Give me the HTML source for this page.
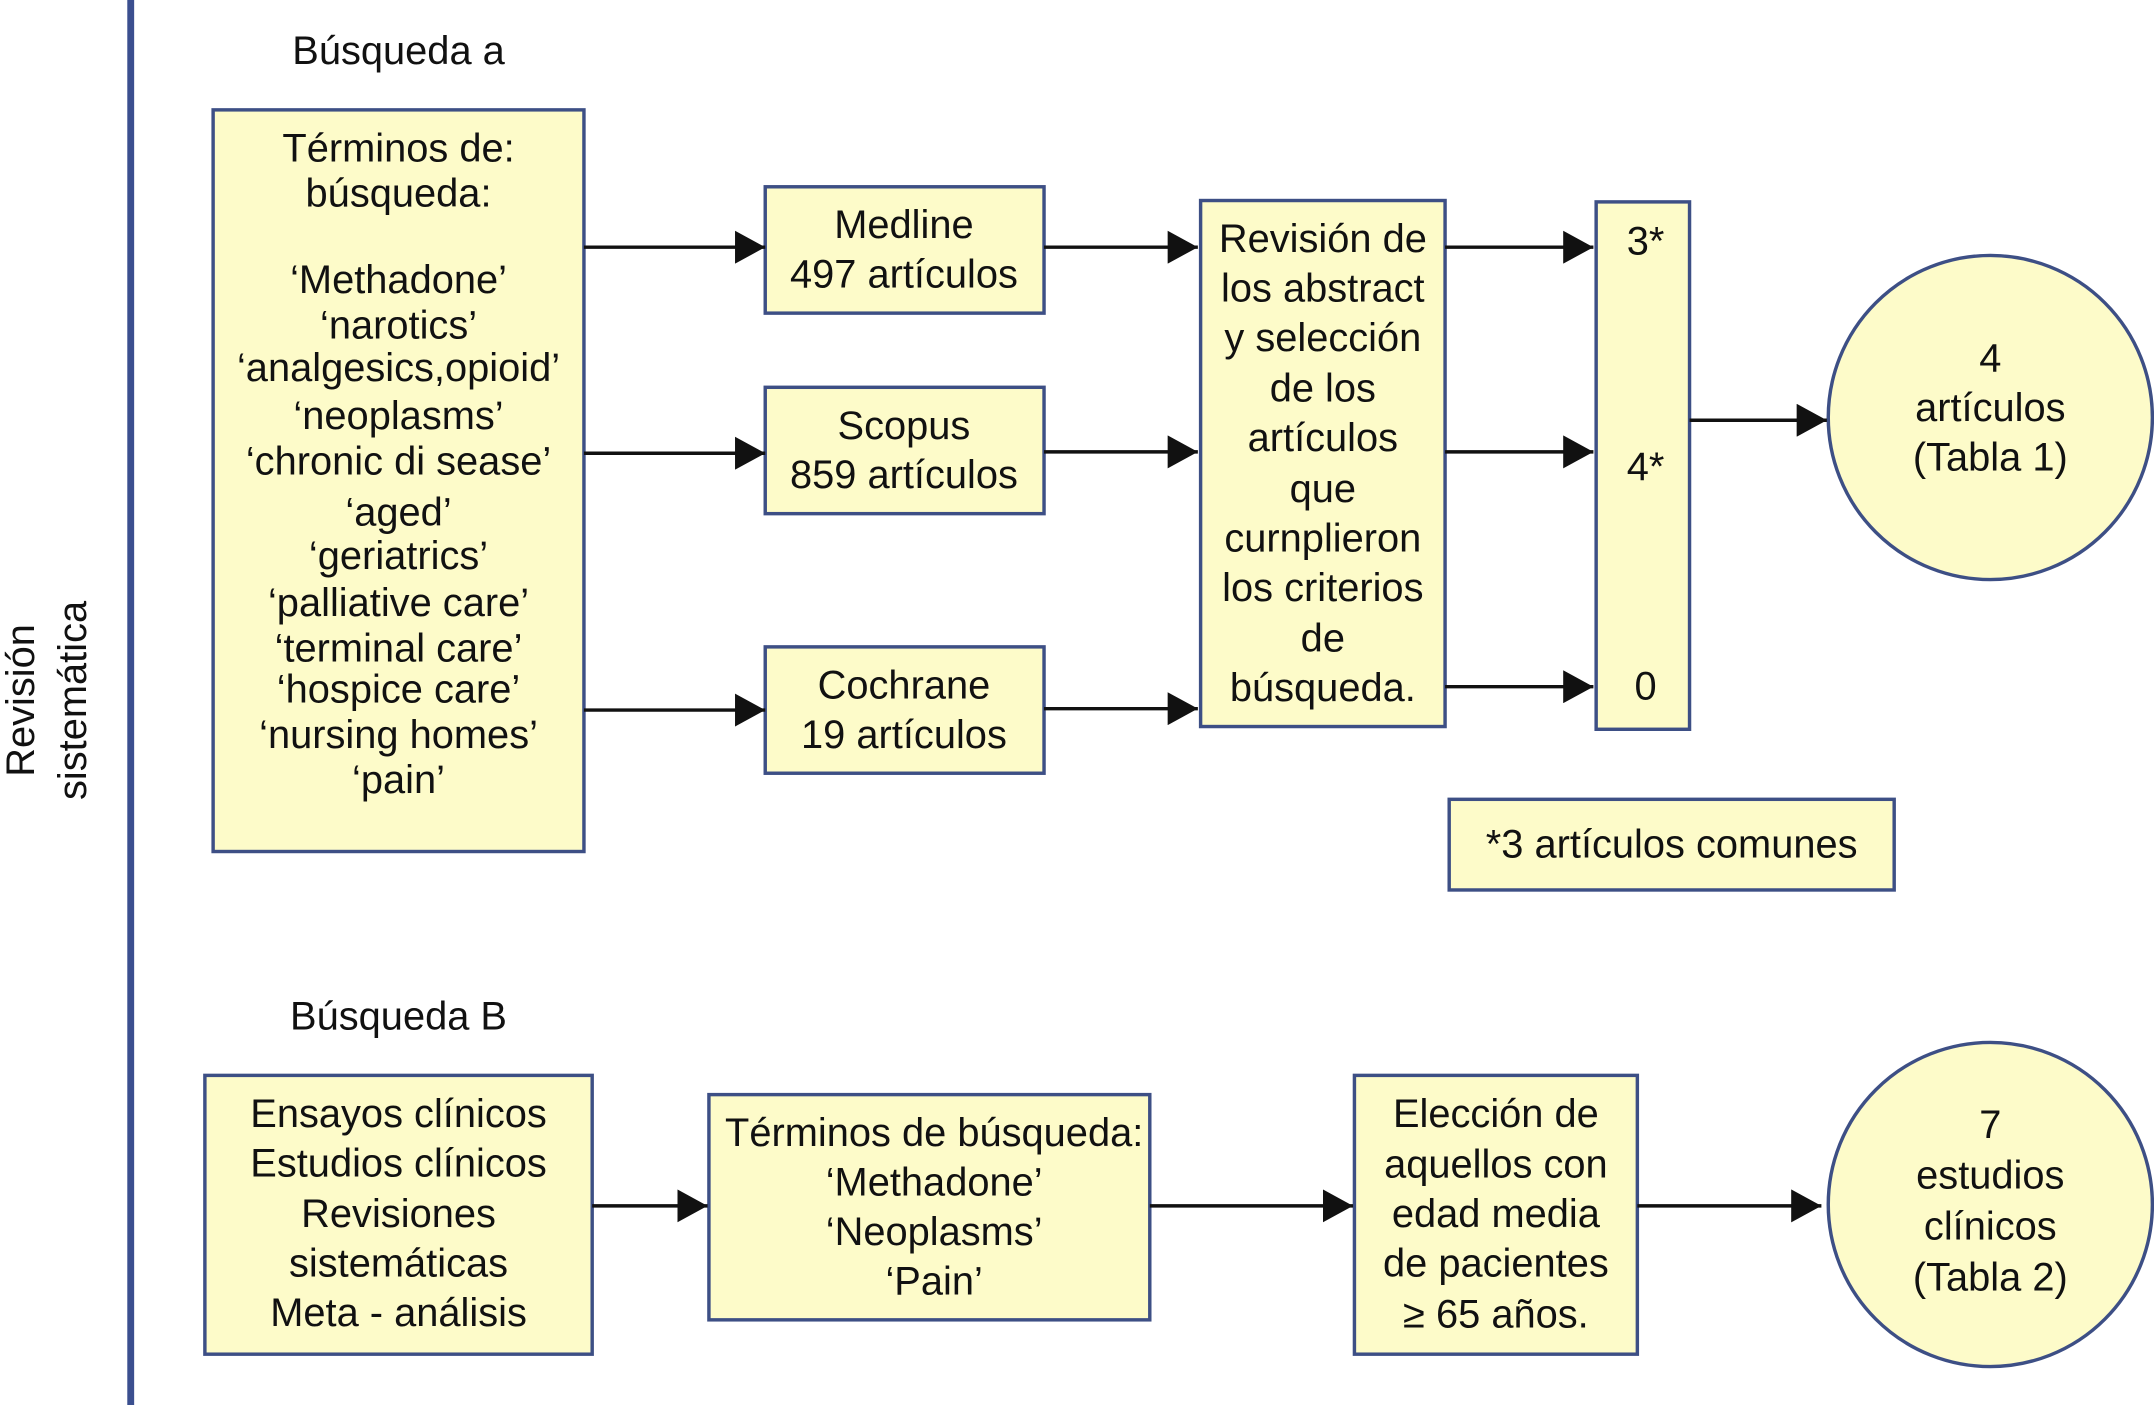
<!DOCTYPE html>
<html><head><meta charset="utf-8"><style>
html,body{margin:0;padding:0;background:#fff;}
svg{display:block;}
text{font-family:"Liberation Sans",Arial,sans-serif;font-size:29px;fill:#111;text-anchor:middle;dominant-baseline:central;}
.b{fill:#fdfbc9;stroke:#3d4f85;stroke-width:2.5;}
.l{stroke:#111;stroke-width:2.5;fill:none;}
</style></head><body>
<svg width="2154" height="1405" viewBox="0 0 1568 1023" xmlns="http://www.w3.org/2000/svg">
<defs><marker id="a" markerWidth="22" markerHeight="24" refX="22" refY="12" orient="auto" markerUnits="userSpaceOnUse" viewBox="0 0 22 24"><path d="M0,0 L22,12 L0,24z" fill="#111"/></marker></defs>
<rect width="1568" height="1023" fill="#fff"/>
<line x1="95" y1="0" x2="95" y2="1023" stroke="#3b4f8f" stroke-width="5"/>
<g transform="translate(35,510) rotate(-90)"><text x="0" y="-20">Revisión</text><text x="0" y="18">sistemática</text></g>
<text x="290" y="37">Búsqueda a</text>
<text x="290" y="740">Búsqueda B</text>

<rect class="b" x="155" y="80" width="270" height="540"/>
<g>
<text x="290" y="108">Términos de:</text><text x="290" y="141">búsqueda:</text>
<text x="290" y="204">‘Methadone’</text><text x="290" y="237">‘narotics’</text>
<text x="290" y="268">‘analgesics,opioid’</text><text x="290" y="303">‘neoplasms’</text>
<text x="290" y="336">‘chronic di sease’</text><text x="290" y="373">‘aged’</text>
<text x="290" y="405">‘geriatrics’</text><text x="290" y="439">‘palliative care’</text>
<text x="290" y="472">‘terminal care’</text><text x="290" y="502">‘hospice care’</text>
<text x="290" y="535">‘nursing homes’</text><text x="290" y="568">‘pain’</text>
</g>
<rect class="b" x="557" y="136" width="203" height="92"/><text x="658" y="164">Medline</text><text x="658" y="200">497 artículos</text>
<rect class="b" x="557" y="282" width="203" height="92"/><text x="658" y="310">Scopus</text><text x="658" y="346">859 artículos</text>
<rect class="b" x="557" y="471" width="203" height="92"/><text x="658" y="499">Cochrane</text><text x="658" y="535">19 artículos</text>
<rect class="b" x="874" y="146" width="178" height="383"/>
<text x="963" y="174">Revisión de</text><text x="963" y="210">los abstract</text><text x="963" y="246">y selección</text><text x="963" y="283">de los</text><text x="963" y="319">artículos</text><text x="963" y="356">que</text><text x="963" y="392">curnplieron</text><text x="963" y="428">los criterios</text><text x="963" y="465">de</text><text x="963" y="501">búsqueda.</text>
<rect class="b" x="1162" y="147" width="68" height="384"/>
<text x="1198" y="176">3*</text><text x="1198" y="340">4*</text><text x="1198" y="500">0</text>
<circle class="b" cx="1449" cy="304" r="118"/>
<text x="1449" y="261">4</text><text x="1449" y="297">artículos</text><text x="1449" y="333">(Tabla 1)</text>
<rect class="b" x="1055" y="582" width="324" height="66"/><text x="1217" y="615">*3 artículos comunes</text>

<line class="l" x1="425" y1="180" x2="557" y2="180" marker-end="url(#a)"/>
<line class="l" x1="425" y1="330" x2="557" y2="330" marker-end="url(#a)"/>
<line class="l" x1="425" y1="517" x2="557" y2="517" marker-end="url(#a)"/>
<line class="l" x1="760" y1="180" x2="872" y2="180" marker-end="url(#a)"/>
<line class="l" x1="760" y1="329" x2="872" y2="329" marker-end="url(#a)"/>
<line class="l" x1="760" y1="516" x2="872" y2="516" marker-end="url(#a)"/>
<line class="l" x1="1052" y1="180" x2="1160" y2="180" marker-end="url(#a)"/>
<line class="l" x1="1052" y1="329" x2="1160" y2="329" marker-end="url(#a)"/>
<line class="l" x1="1052" y1="500" x2="1160" y2="500" marker-end="url(#a)"/>
<line class="l" x1="1230" y1="306" x2="1330" y2="306" marker-end="url(#a)"/>

<rect class="b" x="149" y="783" width="282" height="203"/>
<text x="290" y="811">Ensayos clínicos</text><text x="290" y="847">Estudios clínicos</text><text x="290" y="884">Revisiones</text><text x="290" y="920">sistemáticas</text><text x="290" y="956">Meta - análisis</text>
<rect class="b" x="516" y="797" width="321" height="164"/>
<text x="680" y="825">Términos de búsqueda:</text><text x="680" y="861">‘Methadone’</text><text x="680" y="897">‘Neoplasms’</text><text x="680" y="933">‘Pain’</text>
<rect class="b" x="986" y="783" width="206" height="203"/>
<text x="1089" y="811">Elección de</text><text x="1089" y="848">aquellos con</text><text x="1089" y="884">edad media</text><text x="1089" y="920">de pacientes</text><text x="1089" y="957">≥ 65 años.</text>
<circle class="b" cx="1449" cy="877" r="118"/>
<text x="1449" y="819">7</text><text x="1449" y="856">estudios</text><text x="1449" y="893">clínicos</text><text x="1449" y="930">(Tabla 2)</text>
<line class="l" x1="431" y1="878" x2="515" y2="878" marker-end="url(#a)"/>
<line class="l" x1="837" y1="878" x2="985" y2="878" marker-end="url(#a)"/>
<line class="l" x1="1192" y1="878" x2="1326" y2="878" marker-end="url(#a)"/>
</svg>
</body></html>
